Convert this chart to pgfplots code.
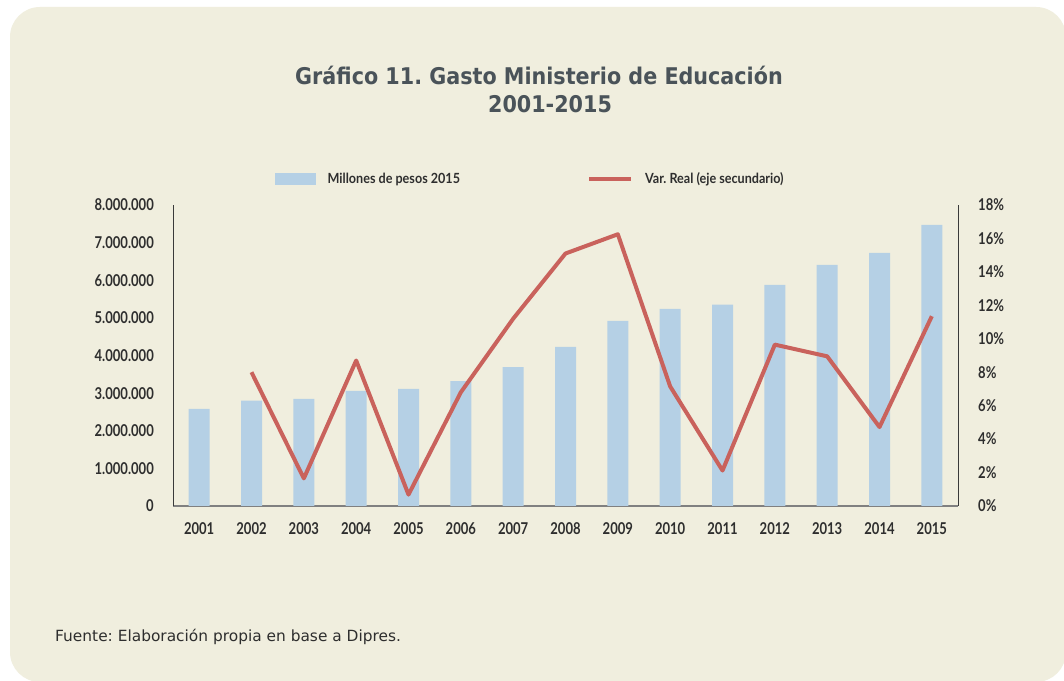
\documentclass[border=0pt]{standalone}
\usepackage{pgfplots}
\pgfplotsset{compat=1.18}
\usepackage{fontspec}
\setmainfont{DejaVu Sans}
\newfontfamily\titlefont[FakeStretch=0.9]{DejaVu Sans}
\newfontfamily\notefont{DejaVu Sans}
\newfontfamily\tickfont[FakeStretch=0.8]{Lato}
\newfontfamily\legfont[FakeStretch=0.9]{Lato}
\frenchspacing

\definecolor{panel}{HTML}{F0EEDE}
\definecolor{barblue}{HTML}{B5D0E5}
\definecolor{linered}{HTML}{C9625C}
\definecolor{titlecol}{HTML}{4A5359}
\definecolor{labcol}{HTML}{2E2E2E}
\definecolor{axdark}{HTML}{3A3A3A}
\definecolor{axgray}{HTML}{808080}

% gasto en millones de pesos 2015 (eje izquierdo)
\pgfplotstableread{
x  gasto
0  2580000
1  2800000
2  2850000
3  3060000
4  3110000
5  3320000
6  3690000
7  4230000
8  4920000
9  5240000
10 5350000
11 5880000
12 6410000
13 6730000
14 7470000
}\gastotab

% variacion real, % (eje secundario)
\pgfplotstableread{
x  var
1  8.0
2  1.65
3  8.7
4  0.68
5  6.8
6  11.2
7  15.1
8  16.25
9  7.15
10 2.12
11 9.65
12 8.95
13 4.72
14 11.35
}\vartab

\pgfplotsset{
  common/.style={
    at={(173pt,174pt)}, anchor=south west,
    scale only axis, width=785pt, height=301pt,
    xmin=-0.5, xmax=14.5,
    major tick length=0pt,
    ticklabel style={font=\tickfont\bfseries\fontsize{16.3}{18}\selectfont, text=labcol, inner sep=0pt},
    /pgf/number format/assume math mode=true,
  },
}

\begin{document}
\begin{tikzpicture}[x=1pt,y=1pt]
\useasboundingbox (0,0) rectangle (1064,680);
\fill[white] (0,0) rectangle (1064,680);
\fill[panel, rounded corners=30pt] (10,-2) rectangle (1066,673);

\node[anchor=base, font=\titlefont\bfseries\fontsize{23}{28}\selectfont, text=titlecol]
  at (539,595.7) {Gráfico 11. Gasto Ministerio de Educación};
\node[anchor=base, font=\titlefont\bfseries\fontsize{23}{28}\selectfont, text=titlecol]
  at (550,567.7) {2001-2015};
\node[anchor=base west, inner sep=0pt, font=\notefont\fontsize{15.4}{18}\selectfont, text=labcol]
  at (55,39) {Fuente: Elaboración propia en base a Dipres.};

\begin{axis}[
  common,
  ymin=0, ymax=8000000,
  axis x line*=bottom, axis y line*=left,
  x axis line style={-, draw=axgray, line width=2pt},
  y axis line style={-, draw=axdark, line width=1pt},
  xtick={0,...,14},
  xticklabels={2001,2002,2003,2004,2005,2006,2007,2008,2009,2010,2011,2012,2013,2014,2015},
  xticklabel style={anchor=north, yshift=-16pt},
  ytick={0,1000000,...,8000000},
  yticklabels={0,1.000.000,2.000.000,3.000.000,4.000.000,5.000.000,6.000.000,7.000.000,8.000.000},
  yticklabel style={anchor=east, xshift=-19pt},
  scaled y ticks=false,
  legend columns=2,
  legend cell align=left,
  legend style={at={(0.130,1.0864)}, anchor=west, draw=none, fill=none, inner sep=0pt,
    font=\legfont\bfseries\fontsize{14}{16}\selectfont, text=labcol,
    /tikz/every odd column/.append style={column sep=10pt},
    /tikz/every even column/.append style={column sep=125pt}},
]
\addplot[ybar, bar width=21pt, fill=barblue, draw=none, forget plot] table[x=x, y=gasto] {\gastotab};
\addlegendimage{legend image code/.code={\fill[barblue] (0pt,-5.5pt) rectangle (40pt,5.5pt);}}
\addlegendentry{Millones de pesos 2015}
\addlegendimage{legend image code/.code={\draw[linered, line width=4pt] (0pt,0pt) -- (42pt,0pt);}}
\addlegendentry{Var. Real (eje secundario)}
\end{axis}

\begin{axis}[
  common,
  ymin=0, ymax=18,
  axis x line=none, axis y line*=right,
  y axis line style={-, draw=axdark, line width=1pt},
  ytick={0,2,...,18},
  yticklabels={0\%,2\%,4\%,6\%,8\%,10\%,12\%,14\%,16\%,18\%},
  yticklabel style={anchor=west, xshift=20pt},
]
\addplot[linered, line width=4pt, line join=round, mark=none] table[x=x, y=var] {\vartab};
\end{axis}
\end{tikzpicture}
\end{document}
